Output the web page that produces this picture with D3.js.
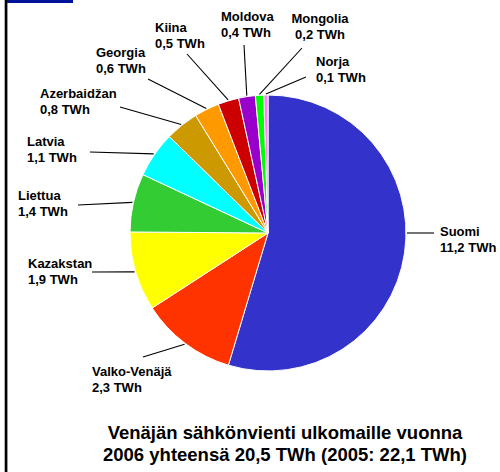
<!DOCTYPE html>
<html>
<head>
<meta charset="utf-8">
<script src="https://cdn.jsdelivr.net/npm/d3@7"></script>
<style>
  html, body { margin: 0; padding: 0; background: #fff; }
  svg { display: block; }
  text { font-family: "Liberation Sans", Arial, sans-serif; font-weight: bold; fill: #000; }
</style>
</head>
<body>
<div id="chart"></div>
<script>
// data
const countries = ['Suomi', 'Valko-Venäjä', 'Kazakstan', 'Liettua', 'Latvia', 'Azerbaidžan',
	'Georgia', 'Kiina', 'Moldova', 'Mongolia', 'Norja'];
const twh = [11.2, 2.3, 1.9, 1.4, 1.1, 0.8, 0.6, 0.5, 0.4, 0.2, 0.1];
const titleLines = ['Venäjän sähkönvienti ulkomaille vuonna', '2006 yhteensä 20,5 TWh (2005: 22,1 TWh)'];

// styles
const colors = ['#3333CC', '#FF3300', '#FFFF00', '#33CC33', '#00FFFF', '#CC9900',
	'#FF9900', '#CC0000', '#9900CC', '#00FF00', '#FF80FF'];

// label placement: text x, first baseline y, leader end at label side, optional leader angle (deg)
const labelPos = [
	{x: 440, y: 236, lx: 434, ly: 233, ang: 90},
	{x: 92, y: 376, lx: 143, ly: 357},
	{x: 28, y: 268, lx: 92, ly: 272},
	{x: 18, y: 200, lx: 78, ly: 205},
	{x: 27, y: 146, lx: 90, ly: 152},
	{x: 40, y: 98, lx: 120, ly: 107},
	{x: 96, y: 57, lx: 148, ly: 79},
	{x: 155, y: 32, lx: 187, ly: 54},
	{x: 221, y: 21, lx: 244, ly: 45},
	{x: 292, y: 23, lx: 302, ly: 48, center: true},
	{x: 316, y: 66, lx: 306, ly: 77}
];

const W = 500, H = 472;
const cx = 268, cy = 233, r = 138;

const svg = d3.select('#chart').append('svg')
	.attr('width', W)
	.attr('height', H);

// frame: left rule and blue tab
svg.append('rect').attr('x', 4).attr('y', 0).attr('width', 1).attr('height', H).attr('fill', '#b0b0b0');
svg.append('rect').attr('x', 5).attr('y', 0).attr('width', 2.4).attr('height', H).attr('fill', '#000');
svg.append('rect').attr('x', 7).attr('y', 0).attr('width', 66).attr('height', 3).attr('fill', '#00129A');

const data = countries.map((c, i) => ({name: c, value: twh[i]}));

const pie = d3.pie()
	.sort(null)
	.value(d => d.value)
	.startAngle(0)
	.endAngle(2 * Math.PI);

const arc = d3.arc()
	.innerRadius(0)
	.outerRadius(r);

const arcs = pie(data);

const plot = svg.append('g')
	.attr('class', 'plot')
	.attr('transform', `translate(${cx},${cy})`);

plot.selectAll('.slice')
	.data(arcs)
	.enter()
	.append('path')
	.attr('class', 'slice')
	.attr('d', arc)
	.attr('fill', (d, i) => colors[i])
	.attr('stroke', '#fff')
	.attr('stroke-width', 1)
	.attr('stroke-linejoin', 'round');

// leader lines
const edgePoint = function(a) {
	return [cx + (r + 1) * Math.sin(a), cy - (r + 1) * Math.cos(a)];
};

svg.selectAll('.leader')
	.data(arcs)
	.enter()
	.append('line')
	.attr('class', 'leader')
	.attr('x1', (d, i) => labelPos[i].lx)
	.attr('y1', (d, i) => labelPos[i].ly)
	.attr('x2', (d, i) => {
		const p = labelPos[i];
		const a = p.ang != null ? p.ang * Math.PI / 180 : (d.startAngle + d.endAngle) / 2;
		return edgePoint(a)[0];
	})
	.attr('y2', (d, i) => {
		const p = labelPos[i];
		const a = p.ang != null ? p.ang * Math.PI / 180 : (d.startAngle + d.endAngle) / 2;
		return edgePoint(a)[1];
	})
	.attr('stroke', '#000')
	.attr('stroke-width', 1.1);

// labels
const fmt = v => v.toFixed(1).replace('.', ',') + ' TWh';

const labels = svg.selectAll('.label')
	.data(arcs)
	.enter()
	.append('text')
	.attr('class', 'label')
	.attr('font-size', '13px')
	.attr('text-anchor', (d, i) => labelPos[i].center ? 'middle' : 'start');

labels.append('tspan')
	.attr('x', (d, i) => labelPos[i].center ? labelPos[i].x + 28 : labelPos[i].x)
	.attr('y', (d, i) => labelPos[i].y)
	.text(d => d.data.name);

labels.append('tspan')
	.attr('x', (d, i) => labelPos[i].center ? labelPos[i].x + 28 : labelPos[i].x)
	.attr('y', (d, i) => labelPos[i].y + 16)
	.text(d => fmt(d.data.value));

// title
svg.append('g')
	.attr('class', 'title')
	.selectAll('text')
	.data(titleLines)
	.enter()
	.append('text')
	.attr('x', 285)
	.attr('y', (d, i) => 439 + i * 22)
	.attr('text-anchor', 'middle')
	.attr('font-size', '18.5px')
	.text(d => d);
</script>
</body>
</html>
